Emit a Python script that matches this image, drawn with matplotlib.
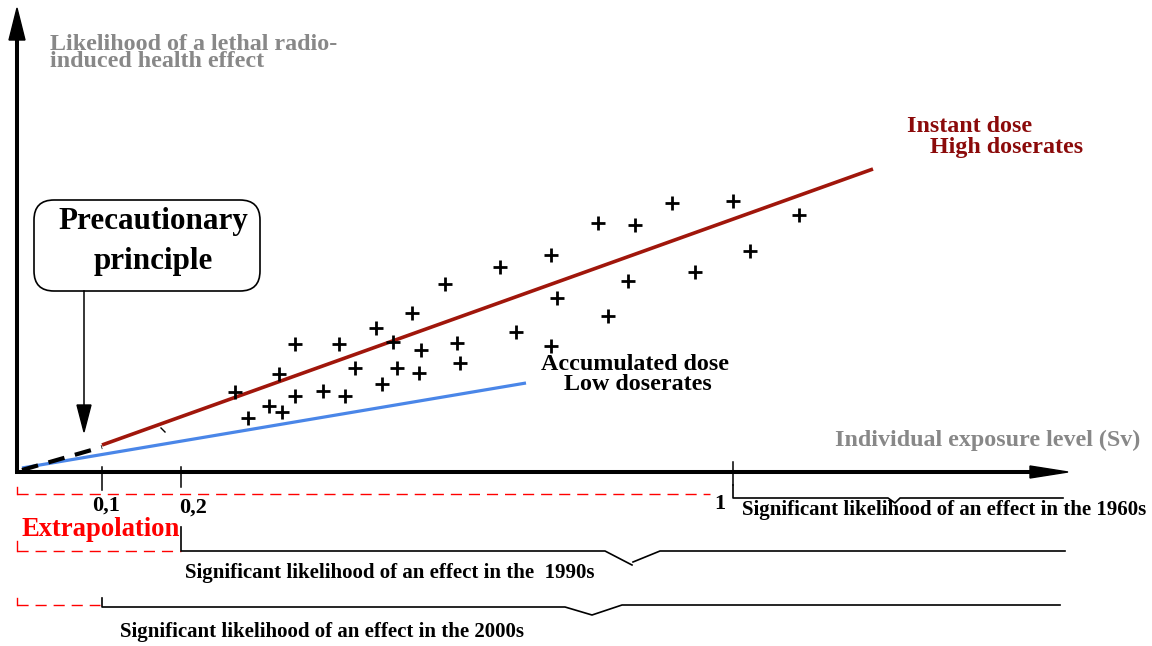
import matplotlib
matplotlib.use("Agg")
import matplotlib.pyplot as plt
from matplotlib.patches import FancyBboxPatch, Polygon

# ---------------- data (schematic units: origin at the axes corner) ----------------
scatter_x = [218, 231, 252, 265, 262, 278, 278, 306, 322, 328, 338, 359, 365, 376, 380,
             395, 402, 404, 428, 440, 443, 483, 499, 534, 540, 534, 581, 618, 655, 611,
             591, 716, 678, 733, 782]
scatter_y = [80, 54, 66, 60, 98, 76, 128, 81, 128, 76, 104, 144, 88, 130, 104,
             159, 99, 122, 188, 129, 109, 205, 140, 217, 174, 126, 249, 247, 269, 191,
             156, 271, 200, 221, 257]

instant_x = [85, 856]          # high dose-rate line
instant_y = [27, 303]
extrap_x = [5, 85]             # precautionary extrapolation (dashed)
extrap_y = [2, 25]
low_x = [5, 509]               # low dose-rate line
low_y = [4, 89]

tick_pos = [85, 164, 716]
tick_labels = ["0,1", "0,2", "1"]

RED = "#a0160b"
DARKRED = "#8b0a0a"
BLUE = "#4a86e8"
GRAY = "#888888"
SERIF = "Liberation Serif"

fig = plt.figure(figsize=(11.52, 6.46), dpi=100)
ax = fig.add_axes([0, 0, 1, 1])
ax.set_xlim(-17, 1135)
ax.set_ylim(-174, 472)
ax.axis("off")

# ---------------- axes arrows ----------------
ax.plot([0, 0], [-1, 434], color="black", lw=2.9, solid_capstyle="butt")
ax.add_patch(Polygon([[-8, 432], [8, 432], [0, 464]], closed=True, color="black"))
ax.plot([-2, 1015], [0, 0], color="black", lw=2.9, solid_capstyle="butt")
ax.add_patch(Polygon([[1013, -6], [1013, 6], [1051, 0]], closed=True, color="black"))

# ---------------- lines ----------------
ax.plot(low_x, low_y, color=BLUE, lw=2.3, solid_capstyle="butt", zorder=3)
ax.plot(instant_x, instant_y, color=RED, lw=2.6, solid_capstyle="butt", zorder=3)
ax.plot(extrap_x, extrap_y, color="black", lw=3.0, dashes=(4, 2.6), zorder=4)
ax.plot([144, 148], [44, 40], color="black", lw=1.0)

# ---------------- scatter ----------------
ax.plot(scatter_x, scatter_y, linestyle="none", marker="+", markersize=10,
        markeredgewidth=2.0, color="black", zorder=5)

# ---------------- ticks ----------------
tick_top = [5, 5, 10]
tick_bot = [-18, -15, -13]
for xp, t0, t1 in zip(tick_pos, tick_top, tick_bot):
    ax.plot([xp, xp], [t0, t1], color="black", lw=1.1)
label_dx = [4, 12, -13]
label_y = [-34, -36, -32]
for xp, lab, dx, ly in zip(tick_pos, tick_labels, label_dx, label_y):
    ax.text(xp + dx, ly, lab, ha="center", va="center", fontsize=16,
            fontweight="bold", family=SERIF)

# ---------------- precautionary principle box ----------------
box = FancyBboxPatch((17, 181), 226, 91, boxstyle="round,pad=0,rounding_size=20",
                     fc="white", ec="black", lw=1.2)
ax.add_patch(box)
ax.text(136, 250, "Precautionary", ha="center", va="center", fontsize=22.4,
        fontweight="bold", family=SERIF)
ax.text(136, 210, "principle", ha="center", va="center", fontsize=22.4,
        fontweight="bold", family=SERIF)
ax.plot([67, 67], [181, 66], color="black", lw=1.1)
ax.add_patch(Polygon([[60, 67], [74, 67], [67, 40]], closed=True, color="black"))

# ---------------- labels ----------------
FS = 17.3
ax.text(33, 438, "Likelihood of a lethal radio-\ninduced health effect", ha="left",
        va="top", fontsize=FS, fontweight="bold", family=SERIF, color=GRAY,
        linespacing=0.74)
ax.text(1123, 32, "Individual exposure level (Sv)", ha="right", va="center",
        fontsize=FS, fontweight="bold", family=SERIF, color=GRAY)
ax.text(890, 345, "Instant dose", ha="left", va="center", fontsize=FS,
        fontweight="bold", family=SERIF, color=DARKRED)
ax.text(913, 324, "High doserates", ha="left", va="center", fontsize=FS,
        fontweight="bold", family=SERIF, color=DARKRED)
ax.text(524, 108, "Accumulated dose", ha="left", va="center", fontsize=FS,
        fontweight="bold", family=SERIF)
ax.text(547, 87, "Low doserates", ha="left", va="center", fontsize=FS,
        fontweight="bold", family=SERIF)
ax.text(5, -58, "Extrapolation", ha="left", va="center", fontsize=19.2,
        fontweight="bold", family=SERIF, color="red")

# ---------------- period brackets ----------------
thin = dict(color="black", lw=1.2)
reddash = dict(color="red", lw=1.0, dashes=(8, 5))
redsolid = dict(color="red", lw=1.0)
SFS = 15

# 1960s
ax.plot([0, 693], [-22, -22], **reddash)
ax.plot([0, 0], [-15, -22], **redsolid)
ax.plot([716, 716, 871, 878, 883, 1046], [-13, -26, -26, -31, -26, -26], **thin)
ax.text(725, -38, "Significant likelihood of an effect in the 1960s", ha="left",
        va="center", fontsize=SFS, fontweight="bold", family=SERIF)

# 1990s
ax.plot([0, 164], [-79, -79], **reddash)
ax.plot([0, 0], [-69, -79], **redsolid)
ax.plot([164, 164, 588, 615], [-55, -79, -79, -93], **thin)
ax.plot([616, 643, 1048], [-90, -79, -79], **thin)
ax.text(168, -101, "Significant likelihood of an effect in the  1990s", ha="left",
        va="center", fontsize=SFS, fontweight="bold", family=SERIF)

# 2000s
ax.plot([0, 83], [-133, -133], **reddash)
ax.plot([0, 0], [-126, -133], **redsolid)
ax.plot([85, 85, 548, 575, 605, 1043], [-126, -135, -135, -143, -133, -133], **thin)
ax.text(103, -160, "Significant likelihood of an effect in the 2000s", ha="left",
        va="center", fontsize=SFS, fontweight="bold", family=SERIF)

fig.savefig("out.png", dpi=100)
